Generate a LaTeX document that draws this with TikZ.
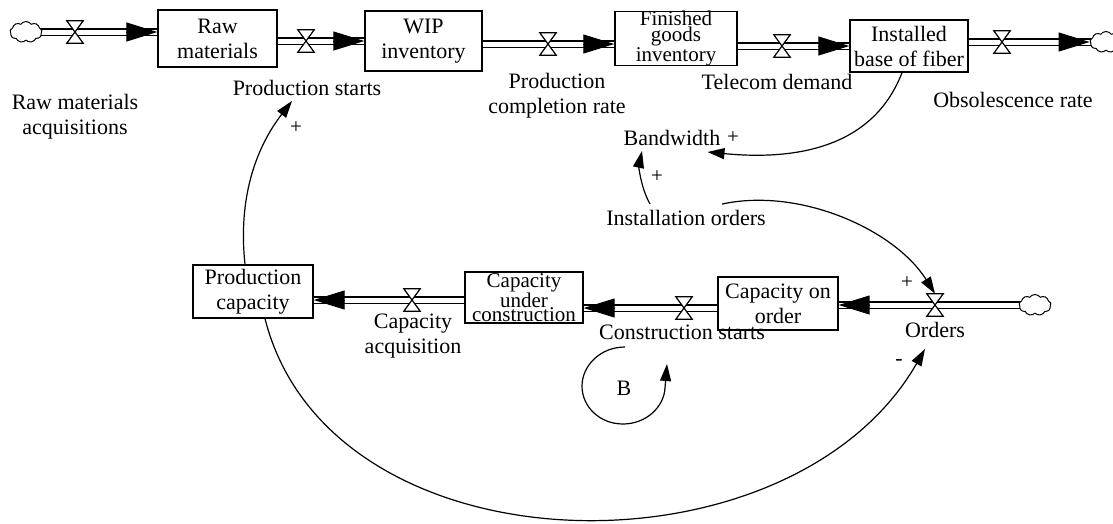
\documentclass[tikz,border=0pt]{standalone}
\usepackage{fontspec}
\setmainfont{Liberation Serif}
\usetikzlibrary{arrows.meta,calc,shapes.symbols}
\newcommand\lblfont{\fontsize{22}{25}\selectfont}
\newcommand\tightfont{\fontsize{21}{14.5}\selectfont}
\newcommand\signfont{\fontsize{21}{22}\selectfont}
\begin{document}
\begin{tikzpicture}[x=1pt,y=-1pt,
  every node/.style={font=\lblfont, inner sep=1pt},
  stock/.style={draw, line width=1.3pt, inner sep=0pt, align=center},
  txt/.style={align=center},
  valve/.style={inner sep=0pt, minimum width=16pt, minimum height=22pt},
  source/.style={cloud, cloud puffs=9, cloud puff arc=110, aspect=1.5, draw,
    line width=1pt, fill=white, minimum width=32pt, minimum height=21pt, inner sep=0pt},
  pipe/.style={line width=1.3pt, double distance=5pt},
  flowtip/.style={line width=1pt, -{Triangle[length=31pt,width=19pt]}},
  link/.style={line width=1.2pt, -{Triangle[length=17pt,width=11pt]}},
  sign/.style={font=\signfont, inner sep=0pt}
]
\useasboundingbox (0,0) rectangle (1113,523);

% stocks
\node[stock, minimum width=119pt, minimum height=57pt] (rm)  at (217.5,38.5) {Raw\\materials};
\node[stock, minimum width=117pt, minimum height=60pt] (wip) at (423.5,41)   {WIP\\inventory};
\node[stock, minimum width=122pt, minimum height=53pt, font=\tightfont] (fg) at (676,38.5) {Finished\\goods\\inventory};
\node[stock, minimum width=118pt, minimum height=52pt] (ib)  at (909,46)     {Installed\\base of fiber};
\node[stock, minimum width=120pt, minimum height=53pt] (pc)  at (253,291.5)  {Production\\capacity};
\node[stock, minimum width=118pt, minimum height=51pt, font=\tightfont] (cuc) at (524,297.5) {Capacity\\under\\construction};
\node[stock, minimum width=120pt, minimum height=53pt] (coo) at (778,303.5)  {Capacity on\\order};

% valves
\node[valve] (v1) at (75,32)  {};
\node[valve] (v2) at (306,41) {};
\node[valve] (v3) at (548,44) {};
\node[valve] (v4) at (782,46) {};
\node[valve] (v5) at (1002,42) {};
\node[valve] (v6) at (412,300) {};
\node[valve] (v7) at (684,308) {};
\node[valve] (v8) at (935,305) {};

% clouds
\coordinate (c1pos) at (26,32);
\coordinate (c2pos) at (1106,42);
\coordinate (c3pos) at (1035,305);

% pipes
\draw[pipe] (c1pos) -- (v1 -| rm.west);
\draw[pipe] (v2 -| rm.east) -- (v2 -| wip.west);
\draw[pipe] (v3 -| wip.east) -- (v3 -| fg.west);
\draw[pipe] (v4 -| fg.east) -- (v4 -| ib.west);
\draw[pipe] (v5 -| ib.east) -- (c2pos);
\draw[pipe] (v6 -| cuc.west) -- (v6 -| pc.east);
\draw[pipe] (v7 -| coo.west) -- (v7 -| cuc.east);
\draw[pipe] (c3pos) -- (v8 -| coo.east);

\node[source] (c1) at (c1pos) {};
\node[source] (c2) at (c2pos) {};
\node[source] (c3) at (c3pos) {};

% flow arrowheads
\draw[flowtip] ($(v1 -| rm.west)+(-31,0)$) -- (v1 -| rm.west);
\draw[flowtip] ($(v2 -| wip.west)+(-31,0)$) -- (v2 -| wip.west);
\draw[flowtip] ($(v3 -| fg.west)+(-31,0)$) -- (v3 -| fg.west);
\draw[flowtip] ($(v4 -| ib.west)+(-31,0)$) -- (v4 -| ib.west);
\draw[flowtip] ($(v5 -| c2.west)+(-31,0)$) -- (v5 -| c2.west);
\draw[flowtip] ($(v6 -| pc.east)+(31,0)$) -- (v6 -| pc.east);
\draw[flowtip] ($(v7 -| cuc.east)+(31,0)$) -- (v7 -| cuc.east);
\draw[flowtip] ($(v8 -| coo.east)+(31,0)$) -- (v8 -| coo.east);

% valve hourglasses
\foreach \v in {v1,v2,v3,v4,v5,v6,v7,v8}
  \draw[line width=1.2pt, fill=white, line join=miter]
    (\v.north west) -- (\v.north east) -- (\v.south west) -- (\v.south east) -- cycle;

% flow and variable names
\node[txt] (acq) at (75,116.5)  {Raw materials\\acquisitions};
\node[txt] (ps)  at (307,88)    {Production starts};
\node[txt] (pcr) at (557,95.5)  {Production\\completion rate};
\node[txt] (td)  at (777,82)    {Telecom demand};
\node[txt] (obs) at (1013,100)  {Obsolescence rate};
\node[txt] (bw)  at (672,138)   {Bandwidth};
\node[txt] (io)  at (686,218)   {Installation orders};
\node[txt] (ca)  at (413,336.5) {Capacity\\acquisition};
\node[txt] (cs)  at (682,332)   {Construction starts};
\node[txt] (ord) at (935,330)   {Orders};

% causal links
\draw[link] ($(pc.north)+(-8,0)$) .. controls +(-7,-65) and +(-37,48) .. ($(ps.south)+(-15,4)$);
\draw[link] ($(ib.south)+(-7,0)$) .. controls +(-30,78) and +(83,8) .. ($(bw.east)+(-14,14)$);
\draw[link] ($(io.north)+(-36,-5)$) .. controls +(-10,-18) and +(-3,14) .. ($(bw.south)+(-30,4)$);
\draw[link] ($(io.north)+(36,-5)$) .. controls +(78,-17) and +(-40,-64) .. (v8.north);
\draw[link] ($(pc.south)+(12,0)$) .. controls +(65,257) and +(-135,235) .. ($(ord.south)+(-10,10)$);

% polarities
\node[sign] (s1) at (296,128) {+};
\node[sign] (s2) at (733,138) {+};
\node[sign] (s3) at (657,177) {+};
\node[sign] (s4) at (907,283) {+};
\node (s5) at (899,362) {-};

% balancing loop marker
\node (loopB) at (624,388) {B};
\draw[line width=1.2pt, -{Triangle[length=17pt,width=11pt]}]
  (625,347) .. controls (600,347) and (582,366) .. (582,386)
  .. controls (582,407) and (600,424) .. (623,424)
  .. controls (646,424) and (664,407) .. (665,388) -- (667,364);
\end{tikzpicture}
\end{document}
